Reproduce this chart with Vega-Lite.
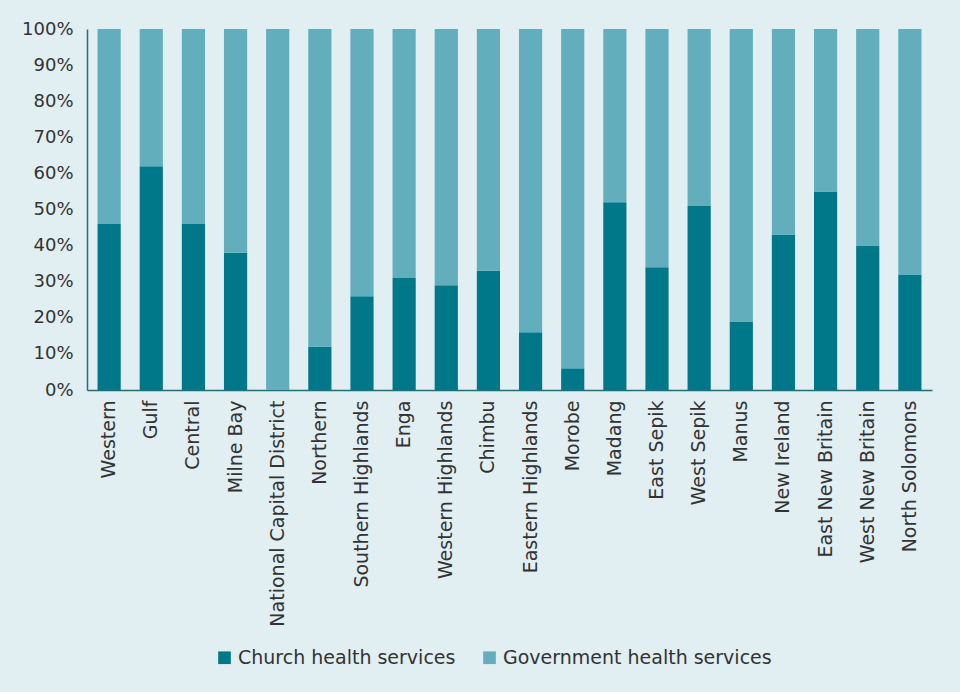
{
  "$schema": "https://vega.github.io/schema/vega-lite/v6.json",
  "width": 845,
  "height": 361,
  "autosize": "none",
  "padding": {"left": 87, "top": 29, "right": 28, "bottom": 302},
  "background": "#E1EEF2",
  "config": {"view": {"stroke": null}, "font": "DejaVu Sans"},
  "data": {"values": [
    {"region": "Western", "type": "Church health services", "value": 46, "o": 1},
    {"region": "Gulf", "type": "Church health services", "value": 62, "o": 1},
    {"region": "Central", "type": "Church health services", "value": 46, "o": 1},
    {"region": "Milne Bay", "type": "Church health services", "value": 38, "o": 1},
    {"region": "National Capital District", "type": "Church health services", "value": 0, "o": 1},
    {"region": "Northern", "type": "Church health services", "value": 12, "o": 1},
    {"region": "Southern Highlands", "type": "Church health services", "value": 26, "o": 1},
    {"region": "Enga", "type": "Church health services", "value": 31, "o": 1},
    {"region": "Western Highlands", "type": "Church health services", "value": 29, "o": 1},
    {"region": "Chimbu", "type": "Church health services", "value": 33, "o": 1},
    {"region": "Eastern Highlands", "type": "Church health services", "value": 16, "o": 1},
    {"region": "Morobe", "type": "Church health services", "value": 6, "o": 1},
    {"region": "Madang", "type": "Church health services", "value": 52, "o": 1},
    {"region": "East Sepik", "type": "Church health services", "value": 34, "o": 1},
    {"region": "West Sepik", "type": "Church health services", "value": 51, "o": 1},
    {"region": "Manus", "type": "Church health services", "value": 19, "o": 1},
    {"region": "New Ireland", "type": "Church health services", "value": 43, "o": 1},
    {"region": "East New Britain", "type": "Church health services", "value": 55, "o": 1},
    {"region": "West New Britain", "type": "Church health services", "value": 40, "o": 1},
    {"region": "North Solomons", "type": "Church health services", "value": 32, "o": 1},
    {"region": "Western", "type": "Government health services", "value": 54, "o": 2},
    {"region": "Gulf", "type": "Government health services", "value": 38, "o": 2},
    {"region": "Central", "type": "Government health services", "value": 54, "o": 2},
    {"region": "Milne Bay", "type": "Government health services", "value": 62, "o": 2},
    {"region": "National Capital District", "type": "Government health services", "value": 100, "o": 2},
    {"region": "Northern", "type": "Government health services", "value": 88, "o": 2},
    {"region": "Southern Highlands", "type": "Government health services", "value": 74, "o": 2},
    {"region": "Enga", "type": "Government health services", "value": 69, "o": 2},
    {"region": "Western Highlands", "type": "Government health services", "value": 71, "o": 2},
    {"region": "Chimbu", "type": "Government health services", "value": 67, "o": 2},
    {"region": "Eastern Highlands", "type": "Government health services", "value": 84, "o": 2},
    {"region": "Morobe", "type": "Government health services", "value": 94, "o": 2},
    {"region": "Madang", "type": "Government health services", "value": 48, "o": 2},
    {"region": "East Sepik", "type": "Government health services", "value": 66, "o": 2},
    {"region": "West Sepik", "type": "Government health services", "value": 49, "o": 2},
    {"region": "Manus", "type": "Government health services", "value": 81, "o": 2},
    {"region": "New Ireland", "type": "Government health services", "value": 57, "o": 2},
    {"region": "East New Britain", "type": "Government health services", "value": 45, "o": 2},
    {"region": "West New Britain", "type": "Government health services", "value": 60, "o": 2},
    {"region": "North Solomons", "type": "Government health services", "value": 68, "o": 2}
  ]},
  "mark": {"type": "bar"},
  "encoding": {
    "x": {
      "field": "region", "type": "nominal", "sort": null,
      "scale": {"paddingInner": 0.45, "paddingOuter": 0.25},
      "axis": {"title": null, "labelAngle": -90, "labelFontSize": 19, "labelColor": "#333333", "labelPadding": 10, "labelLimit": 0, "ticks": false, "domainColor": "#1F6F7C", "domainWidth": 1.5}
    },
    "y": {
      "field": "value", "type": "quantitative", "stack": "normalize",
      "scale": {"domain": [0, 1]},
      "axis": {"title": null, "format": "%", "values": [0,0.1,0.2,0.3,0.4,0.5,0.6,0.7,0.8,0.9,1], "labelOverlap": false, "labelFontSize": 18, "labelColor": "#333333", "labelPadding": 14, "ticks": false, "grid": false, "domainColor": "#1F6F7C", "domainWidth": 1.5}
    },
    "color": {
      "field": "type", "type": "nominal",
      "scale": {"domain": ["Church health services", "Government health services"], "range": ["#00788A", "#62AEBD"]},
      "legend": {"title": null, "orient": "none", "direction": "horizontal", "legendX": 128, "legendY": 619, "symbolType": "square", "symbolSize": 160, "symbolStrokeWidth": 0, "labelFontSize": 19, "labelLimit": 0, "labelColor": "#333333", "columnPadding": 24, "labelOffset": 4}
    },
    "order": {"field": "o", "type": "quantitative"}
  }
}
